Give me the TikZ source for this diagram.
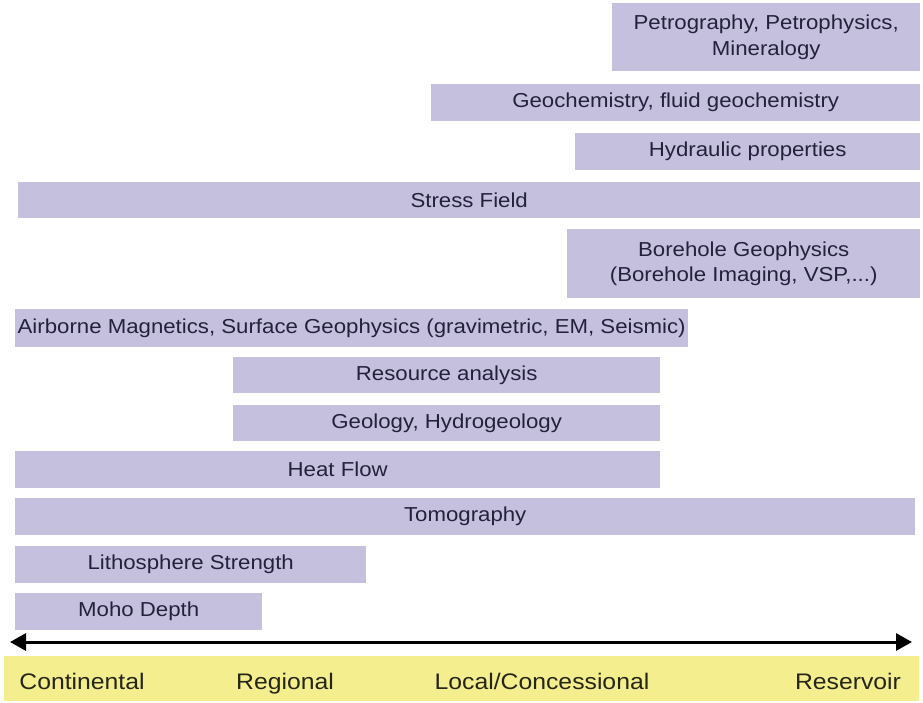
\documentclass[tikz,border=0pt]{standalone}
\usepackage{fontspec}
\setmainfont{Liberation Sans}[FakeStretch=1.1]
\usetikzlibrary{arrows.meta}
\definecolor{barfill}{HTML}{C5C0DE}
\definecolor{bartext}{HTML}{22223A}
\definecolor{bandfill}{HTML}{F4EE8E}
\definecolor{labeltext}{HTML}{262618}
\begin{document}
\begin{tikzpicture}[x=1pt,y=-1pt,
  bar/.style={fill=barfill, draw=none, inner sep=0pt, anchor=north west,
    text=bartext, align=center, font=\fontsize{20.2}{25.5}\selectfont},
  scalelabel/.style={text=labeltext, inner sep=0pt, anchor=base, font=\fontsize{22.5}{26}\selectfont}]
\useasboundingbox (0,0) rectangle (923,702);
\fill[white] (0,0) rectangle (923,702);
% bars: (x,y) top-left, width, height in px
\node[bar, minimum width=308, minimum height=68] (petro) at (612,3) {Petrography, Petrophysics,\\Mineralogy};
\node[bar, minimum width=489, minimum height=37] (geochem) at (431,84) {Geochemistry, fluid geochemistry};
\node[bar, minimum width=345, minimum height=37] (hydr) at (575,133) {Hydraulic properties};
\node[bar, minimum width=902, minimum height=36] (stress) at (18,182) {Stress Field};
\node[bar, minimum width=353, minimum height=69] (bore) at (567,229) {Borehole Geophysics\\(Borehole Imaging, VSP,...)};
\node[bar, minimum width=673, minimum height=38] (airb) at (15,309) {Airborne Magnetics, Surface Geophysics (gravimetric, EM, Seismic)};
\node[bar, minimum width=427, minimum height=36] (res) at (233,357) {Resource analysis};
\node[bar, minimum width=427, minimum height=36] (geol) at (233,405) {Geology, Hydrogeology};
\node[bar, minimum width=645, minimum height=37] (heat) at (15,451) {Heat Flow};
\node[bar, minimum width=900, minimum height=37] (tomo) at (15,498) {Tomography};
\node[bar, minimum width=351, minimum height=37] (litho) at (15,546) {Lithosphere Strength};
\node[bar, minimum width=247, minimum height=37] (moho) at (15,593) {Moho Depth};
% scale arrow
\coordinate (aL) at (10,642);
\coordinate (aR) at (912,642);
\draw[line width=3pt, {Triangle[length=16pt,width=17pt]}-{Triangle[length=16pt,width=17pt]}] (aL) -- (aR);
% yellow band
\fill[bandfill] (4,656) rectangle (919,701);
\node[scalelabel] (cont) at (82,689) {Continental};
\node[scalelabel] (reg) at (285,689) {Regional};
\node[scalelabel] (loc) at (542,689) {Local/Concessional};
\node[scalelabel] (resv) at (848,689) {Reservoir};
\end{tikzpicture}
\end{document}
